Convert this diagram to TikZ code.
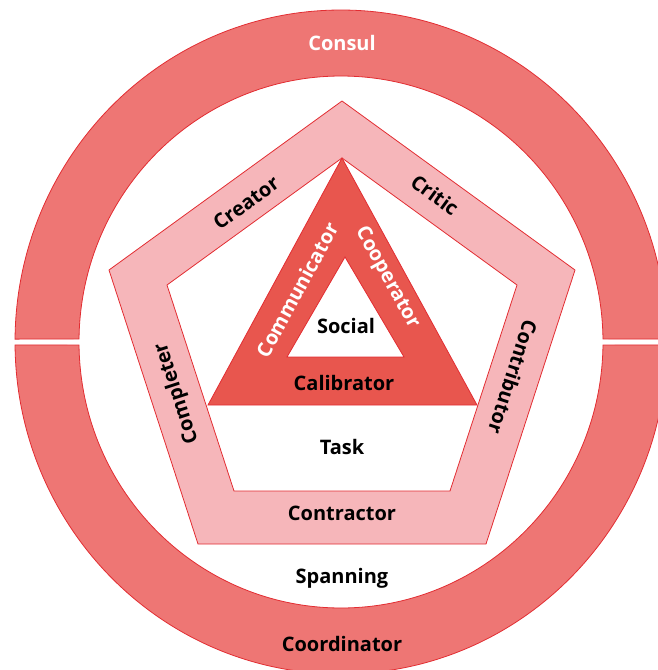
\documentclass[tikz,border=0pt]{standalone}
\usepackage{fontspec}
\setmainfont{Open Sans}
\definecolor{ringred}{RGB}{238,118,116}
\definecolor{pentpink}{RGB}{246,182,186}
\definecolor{trired}{RGB}{232,86,78}
\definecolor{linered}{RGB}{226,45,50}
\begin{document}
\begin{tikzpicture}[x=1pt,y=-1pt,
  edge/.style={draw=linered, line width=0.8pt, line join=miter},
  lbl/.style={font=\bfseries\fontsize{20}{22}\selectfont, text=black, inner sep=0pt},
  wlbl/.style={lbl, text=white}]
\useasboundingbox (0,0) rectangle (658,670);

% outer ring, split into an upper and a lower half
\coordinate (rc) at (341,342);
\path[edge, fill=ringred]
  ([shift={(rc)}]180.5:326 and 332) arc[start angle=180.5, end angle=359.5, x radius=326, y radius=332]
  -- ([shift={(rc)}]359.35:262 and 266) arc[start angle=359.35, end angle=180.65, x radius=262, y radius=266]
  -- cycle;
\path[edge, fill=ringred]
  ([shift={(rc)}]179.5:326 and 332) arc[start angle=179.5, end angle=0.5, x radius=326, y radius=332]
  -- ([shift={(rc)}]0.65:262 and 266) arc[start angle=0.65, end angle=179.35, x radius=262, y radius=266]
  -- cycle;

% pentagon band
\coordinate (P1) at (342,101);
\coordinate (P2) at (575,270);
\coordinate (P3) at (486,544);
\coordinate (P4) at (198,544);
\coordinate (P5) at (109,270);
\coordinate (Q1) at (342,158);
\coordinate (Q2) at (517,285);
\coordinate (Q3) at (450,491);
\coordinate (Q4) at (234,491);
\coordinate (Q5) at (167,285);
\path[edge, fill=pentpink, even odd rule]
  (P1) -- (P2) -- (P3) -- (P4) -- (P5) -- cycle
  (Q1) -- (Q2) -- (Q3) -- (Q4) -- (Q5) -- cycle;

% triangle band
\coordinate (T1) at (342,158);
\coordinate (T2) at (477,405);
\coordinate (T3) at (208,405);
\coordinate (S1) at (345,257);
\coordinate (S2) at (404,357);
\coordinate (S3) at (287,357);
\path[edge, fill=trired, even odd rule]
  (T1) -- (T2) -- (T3) -- cycle
  (S1) -- (S2) -- (S3) -- cycle;

% labels
\node[wlbl] (consul) at (342,43) {Consul};
\node[lbl, rotate=36] (creator) at (246,203) {Creator};
\node[lbl, rotate=-36] (critic) at (435,195) {Critic};
\node[lbl, rotate=108] (completer) at (177,393) {Completer};
\node[lbl, rotate=-108] (contributor) at (513,377) {Contributor};
\node[wlbl, rotate=61.5] (communicator) at (297,290) {Communicator};
\node[wlbl, rotate=-61.2] (cooperator) at (387,278) {Cooperator};
\node[lbl] (social) at (346,326) {Social};
\node[lbl] (calibrator) at (344,383) {Calibrator};
\node[lbl] (task) at (342,447) {Task};
\node[lbl] (contractor) at (342,513) {Contractor};
\node[lbl] (spanning) at (342,578) {Spanning};
\node[lbl] (coordinator) at (342,644) {Coordinator};
\end{tikzpicture}
\end{document}
